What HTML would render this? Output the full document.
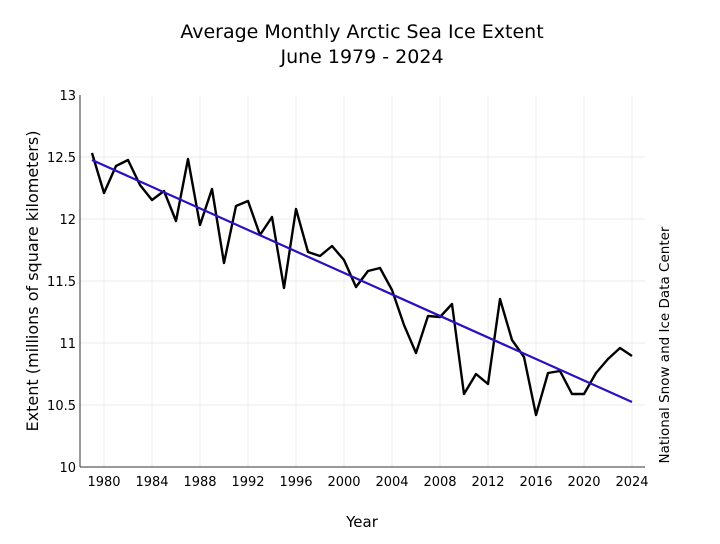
<!DOCTYPE html>
<html><head><style>body{margin:0;background:#fff}</style></head><body>
<svg width="720" height="539" xmlns="http://www.w3.org/2000/svg" font-family="DejaVu Sans, Liberation Sans, sans-serif">
<rect width="720" height="539" fill="#fff"/>
<text x="362" y="38" font-size="19" text-anchor="middle">Average Monthly Arctic Sea Ice Extent</text>
<text x="362" y="63" font-size="19" text-anchor="middle">June 1979 - 2024</text>
<g stroke="#ebebeb" stroke-width="1">
<line x1="104" y1="95" x2="104" y2="467"/><line x1="152" y1="95" x2="152" y2="467"/><line x1="200" y1="95" x2="200" y2="467"/><line x1="248" y1="95" x2="248" y2="467"/><line x1="296" y1="95" x2="296" y2="467"/><line x1="344" y1="95" x2="344" y2="467"/><line x1="392" y1="95" x2="392" y2="467"/><line x1="440" y1="95" x2="440" y2="467"/><line x1="488" y1="95" x2="488" y2="467"/><line x1="536" y1="95" x2="536" y2="467"/><line x1="584" y1="95" x2="584" y2="467"/><line x1="632" y1="95" x2="632" y2="467"/>
<line x1="80" y1="157" x2="645" y2="157"/><line x1="80" y1="219" x2="645" y2="219"/><line x1="80" y1="281" x2="645" y2="281"/><line x1="80" y1="343" x2="645" y2="343"/><line x1="80" y1="405" x2="645" y2="405"/>
</g>
<g stroke="#333" stroke-width="1"><line x1="80" y1="95" x2="80" y2="467"/><line x1="80" y1="467" x2="645" y2="467"/></g>
<g font-size="13" text-anchor="end"><text x="76" y="100">13</text><text x="76" y="162">12.5</text><text x="76" y="224">12</text><text x="76" y="286">11.5</text><text x="76" y="348">11</text><text x="76" y="410">10.5</text><text x="76" y="472">10</text></g>
<g font-size="13" text-anchor="middle"><text x="104" y="486">1980</text><text x="152" y="486">1984</text><text x="200" y="486">1988</text><text x="248" y="486">1992</text><text x="296" y="486">1996</text><text x="344" y="486">2000</text><text x="392" y="486">2004</text><text x="440" y="486">2008</text><text x="488" y="486">2012</text><text x="536" y="486">2016</text><text x="584" y="486">2020</text><text x="632" y="486">2024</text></g>
<text x="362" y="527" font-size="15" text-anchor="middle">Year</text>
<text transform="translate(38,281) rotate(-90)" font-size="16" text-anchor="middle">Extent (millions of square kilometers)</text>
<text transform="translate(669,345) rotate(-90)" font-size="13.5" text-anchor="middle">National Snow and Ice Data Center</text>
<polyline fill="none" stroke="#000" stroke-width="2.4" stroke-linejoin="round" points="92,153 104,193 116,166 128,160 140,185 152,200 164,191 176,221 188,159 200,225 212,189 224,263 236,206 248,201 260,235 272,217 284,288 296,209 308,252 320,256 332,246 344,260 356,287 368,271 380,268 392,290 404,325 416,353 428,316 440,317 452,304 464,394 476,374 488,384 500,299 512,340 524,357 536,415 548,373 560,371 572,394 584,394 596,373 608,359 620,348 632,356"/>
<line x1="92" y1="160" x2="632" y2="402" stroke="#2a10c0" stroke-width="2.2"/>
</svg>
</body></html>
